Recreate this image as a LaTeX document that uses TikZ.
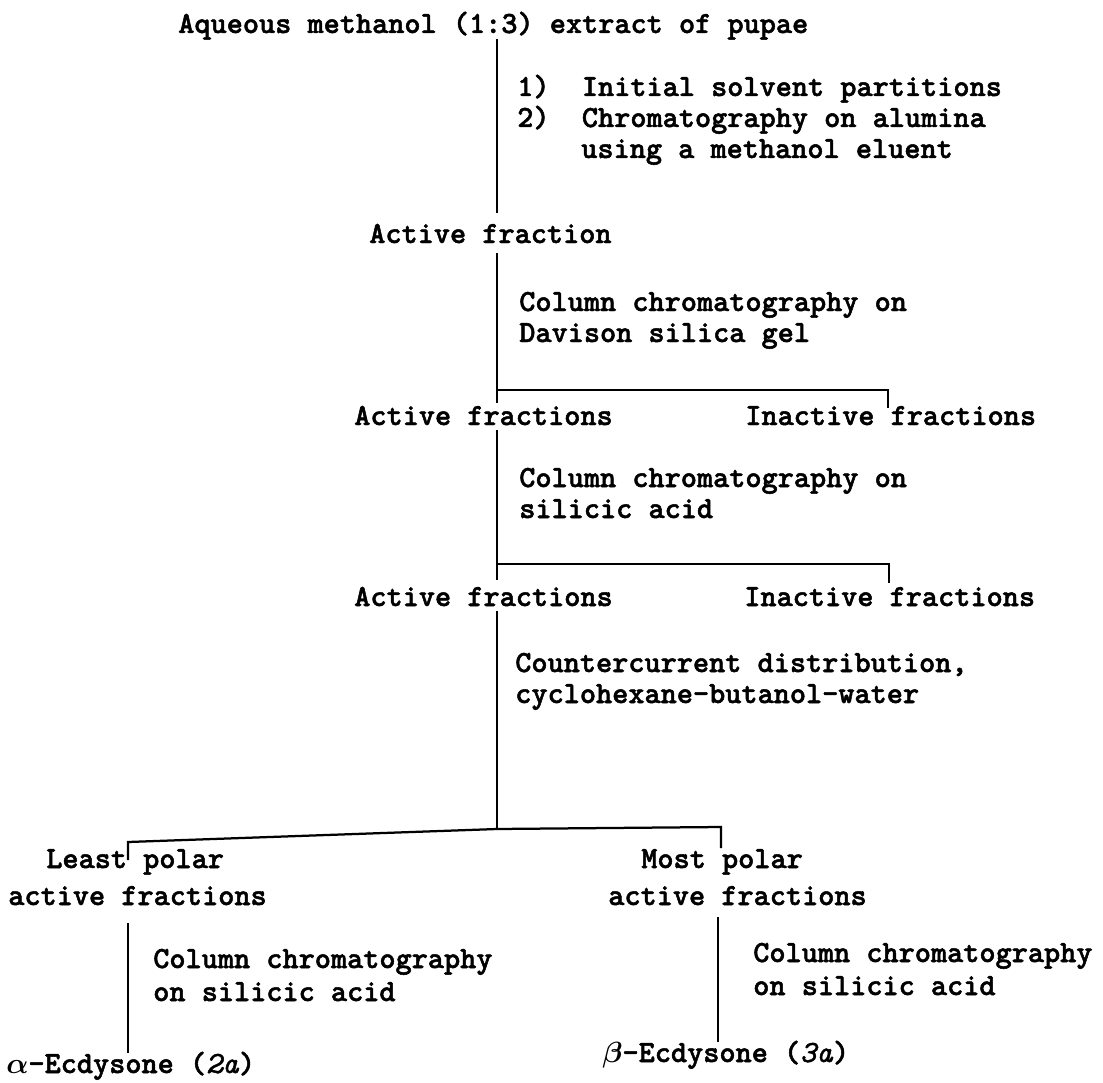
\documentclass[tikz,border=0pt]{standalone}
\usepackage{fontspec}
\newfontfamily\tw{lmmonolt10-bold.otf}[ItalicFont=lmmono10-italic.otf,FakeBold=1.6]
\begin{document}
\begin{tikzpicture}[x=0.025cm,y=-0.025cm,
  lbl/.style={inner sep=0pt,anchor=base west,
    font=\fontsize{21.88pt}{26pt}\selectfont\tw\boldmath},
  rule/.style={line width=1.6pt,line cap=butt,line join=miter}]
\fill[white] (0,0) rectangle (1103,1083);
\useasboundingbox (0,0) rectangle (1103,1083);

% ---- texts ----
\node[lbl] (title) at (178,33) {Aqueous methanol (1:3) extract of pupae};
\node[lbl] (s1a) at (517,96) {1)~~Initial solvent partitions};
\node[lbl] (s1b) at (517,127) {2)~~Chromatography on alumina};
\node[lbl] (s1c) at (581,158) {using a methanol eluent};
\node[lbl] (af1) at (369,243) {Active fraction};
\node[lbl] (s2a) at (519,311) {Column chromatography on};
\node[lbl] (s2b) at (519,342) {Davison silica gel};
\node[lbl] (af2) at (354,425) {Active fractions};
\node[lbl] (if2) at (745,425) {Inactive fractions};
\node[lbl] (s3a) at (519,487) {Column chromatography on};
\node[lbl] (s3b) at (519,518) {silicic acid};
\node[lbl] (af3) at (354,606) {Active fractions};
\node[lbl] (if3) at (744,606) {Inactive fractions};
\node[lbl] (s4a) at (515,672) {Countercurrent distribution,};
\node[lbl] (s4b) at (515,703) {cyclohexane-butanol-water};
\node[lbl] (lp1) at (46,868) {Least polar};
\node[lbl] (lp2) at (8,905) {active fractions};
\node[lbl] (s5a) at (153,968) {Column chromatography};
\node[lbl] (s5b) at (153,1001) {on silicic acid};
\node[lbl] (alpha) at (6,1073) {$\alpha$-Ecdysone (\textit{2a})};
\node[lbl] (mp1) at (641,868) {Most polar};
\node[lbl] (mp2) at (608,905) {active fractions};
\node[lbl] (s6a) at (753,962) {Column chromatography};
\node[lbl] (s6b) at (753,995) {on silicic acid};
\node[lbl] (beta) at (602,1062) {$\beta$-Ecdysone (\textit{3a})};

% ---- junction coordinates ----
\coordinate (c1t) at (497,39);   \coordinate (c1b) at (497,213);
\coordinate (c2t) at (497,253);  \coordinate (c2j) at (497,390);
\coordinate (c2b) at (497,403);  \coordinate (c2r) at (888,390);
\coordinate (c2rb) at (888,408);
\coordinate (c3t) at (497,430);  \coordinate (c3j) at (497,564);
\coordinate (c3b) at (497,580);  \coordinate (c3r) at (889,564);
\coordinate (c3rb) at (889,583);
\coordinate (c4t) at (497,611);  \coordinate (c4j) at (497,829);
\coordinate (c4l) at (128,842);  \coordinate (c4lb) at (128,860);
\coordinate (c4r) at (721,827);  \coordinate (c4rb) at (721,848);
\coordinate (c5t) at (128,923);  \coordinate (c5b) at (128,1053);
\coordinate (c6t) at (718,917);  \coordinate (c6b) at (718,1042);

% ---- connectors ----
\draw[rule] (c1t) -- (c1b);
\draw[rule] (c2t) -- (c2b);
\draw[rule] (c2j) -- (c2r) -- (c2rb);
\draw[rule] (c3t) -- (c3b);
\draw[rule] (c3j) -- (c3r) -- (c3rb);
\draw[rule] (c4t) -- (c4j);
\draw[rule] (c4lb) -- (c4l) -- (c4j) -- (c4r) -- (c4rb);
\draw[rule] (c5t) -- (c5b);
\draw[rule] (c6t) -- (c6b);
\end{tikzpicture}
\end{document}
